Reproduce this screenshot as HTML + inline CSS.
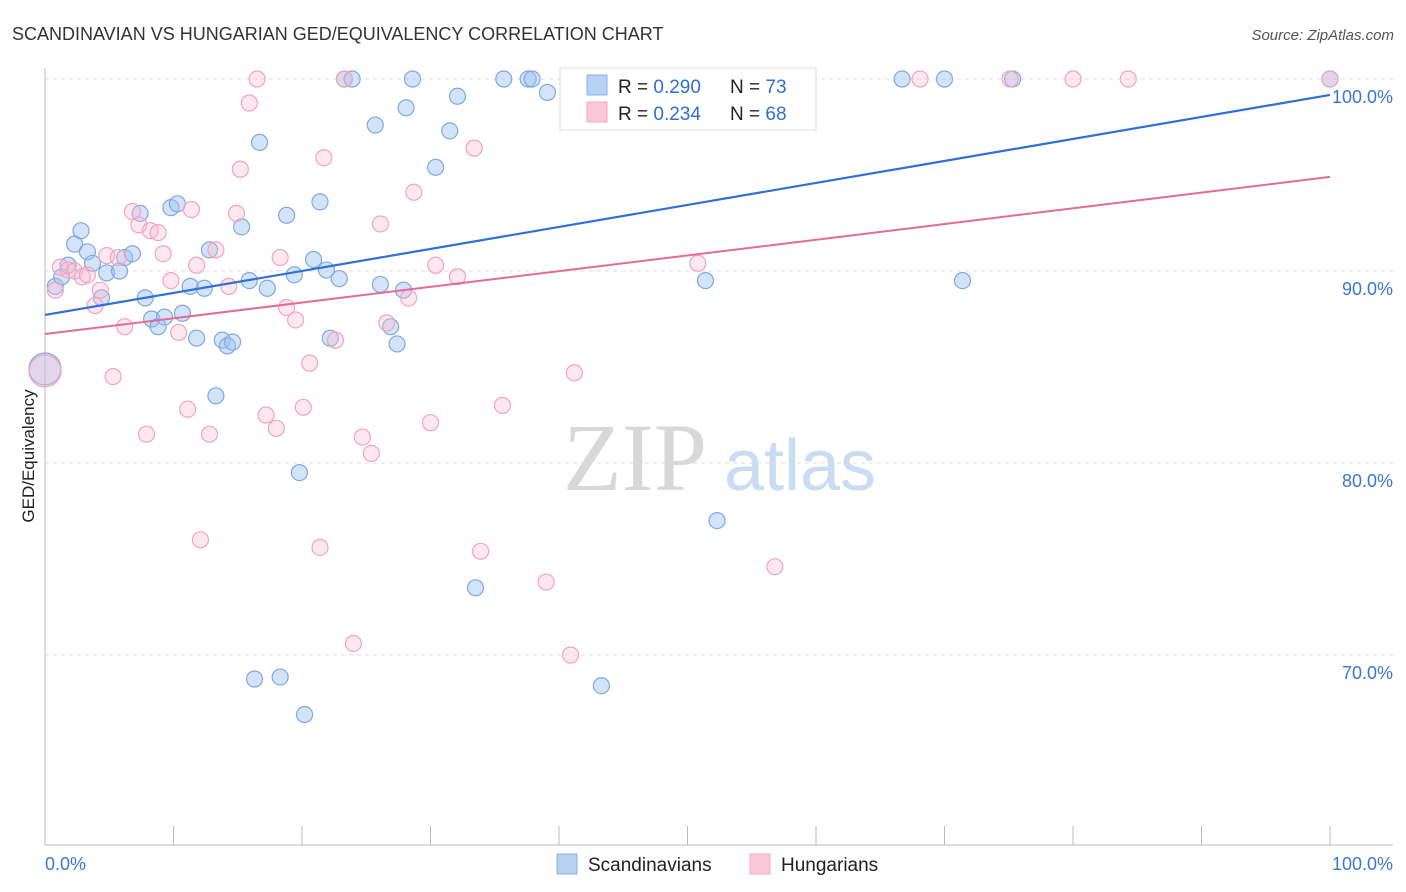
<!DOCTYPE html>
<html><head><meta charset="utf-8"><style>
body{margin:0;background:#fff;font-family:"Liberation Sans",sans-serif;}
svg{display:block}
</style></head><body>
<svg id="c" width="1406" height="892">
<text x="12" y="40" font-size="18" fill="#333">SCANDINAVIAN VS HUNGARIAN GED/EQUIVALENCY CORRELATION CHART</text>
<text x="1394" y="40" font-size="15" fill="#555" font-style="italic" text-anchor="end">Source: ZipAtlas.com</text>
<text x="34" y="456" font-size="17" fill="#222" transform="rotate(-90 34 456)" text-anchor="middle">GED/Equivalency</text>
<g><text x="635" y="490" font-family="Liberation Serif,serif" font-size="96" fill="#d8d8d8" text-anchor="middle">ZIP</text><text x="800" y="490" font-size="72" fill="#c8dcf2" text-anchor="middle">atlas</text></g>
<g id="grid"></g><g id="pts"></g><g id="lines"></g>
<g>
<rect x="560" y="68" width="256" height="62" fill="#fff" stroke="#ddd"/>
<rect x="587" y="75" width="20" height="20" fill="#b8d2f4" stroke="#8ab0e6"/>
<rect x="587" y="102" width="20" height="20" fill="#fac8d8" stroke="#f2a8c0"/>
<text x="618" y="93" font-size="19" fill="#222">R = <tspan fill="#2f6fd0">0.290</tspan></text>
<text x="730" y="93" font-size="19" fill="#222">N = <tspan fill="#2f6fd0">73</tspan></text>
<text x="618" y="120" font-size="19" fill="#222">R = <tspan fill="#2f6fd0">0.234</tspan></text>
<text x="730" y="120" font-size="19" fill="#222">N = <tspan fill="#2f6fd0">68</tspan></text>
</g>
<g>
<rect x="557" y="854" width="20" height="20" fill="#b8d2f4" stroke="#8ab0e6"/>
<text x="588" y="871" font-size="19" fill="#222">Scandinavians</text>
<rect x="750" y="854" width="20" height="20" fill="#fac8d8" stroke="#f2a8c0"/>
<text x="781" y="871" font-size="19" fill="#222">Hungarians</text>
</g>
</svg>
<script>
const yTicks=[100,90,80,70];
const yTickLabels=["100.0%","90.0%","80.0%","70.0%"];
const blueX=[0,0.8,1.3,1.8,2.3,2.8,3.3,3.7,4.4,4.8,5.8,6.2,6.8,7.4,7.8,8.3,8.8,9.3,9.8,10.3,10.7,11.3,11.8,12.4,12.8,13.3,13.8,14.2,14.6,15.3,15.9,16.3,16.7,17.3,18.3,18.8,19.4,19.8,20.2,20.9,21.4,21.9,22.2,22.9,23.3,23.9,25.7,26.1,26.9,27.4,27.9,28.1,28.6,30.4,31.5,32.1,33.5,35.7,37.6,37.9,39.1,42.0,43.3,47.1,51.4,52.3,66.7,70.0,71.4,75.3,100];
const blueY=[84.9,89.2,89.7,90.3,91.4,92.1,91.0,90.4,88.6,89.9,90.0,90.7,90.9,93.0,88.6,87.5,87.1,87.6,93.3,93.5,87.8,89.2,86.5,89.1,91.1,83.5,86.4,86.1,86.3,92.3,89.5,68.75,96.7,89.1,68.85,92.9,89.8,79.5,66.9,90.6,93.6,90.05,86.5,89.6,100,100,97.6,89.3,87.1,86.2,89.0,98.5,100,95.4,97.3,99.1,73.5,100,100,100,99.3,100,68.4,100,89.5,77.0,100,100,89.5,100,100];
const pinkX=[0,0.8,1.2,1.8,2.3,2.9,3.3,3.9,4.3,4.8,5.3,5.7,6.2,6.8,7.3,7.9,8.2,8.8,9.2,9.8,10.4,11.1,11.4,11.8,12.1,12.8,13.3,14.3,14.9,15.2,15.9,16.5,17.2,18.0,18.3,18.8,19.5,20.1,20.6,21.4,21.7,22.6,23.3,24.0,24.7,25.4,26.1,26.6,28.3,28.7,30.0,30.4,32.1,33.4,33.9,35.6,39.0,40.9,41.2,50.8,53.9,56.8,68.1,75.1,80.0,84.3,100];
const pinkY=[84.8,89.0,90.2,90.05,90.0,89.7,89.8,88.2,89.0,90.8,84.5,90.7,87.1,93.1,92.4,81.5,92.1,92.0,90.9,89.5,86.8,82.8,93.2,90.3,76.0,81.5,91.1,89.2,93.0,95.3,98.75,100,82.5,81.8,90.7,88.1,87.45,82.9,85.2,75.6,95.9,86.4,100,70.6,81.35,80.5,92.45,87.3,88.6,94.1,82.1,90.3,89.7,96.4,75.4,83.0,73.8,70.0,84.7,90.4,100,74.6,100,100,100,100,100];
const blueTrend=[87.71,99.17];
const pinkTrend=[86.72,94.9];
const NS="http://www.w3.org/2000/svg";
const sx=v=>45+v*12.85, sy=v=>79+(100-v)*19.2;
function mk(t,a,p){const e=document.createElementNS(NS,t);for(const k in a)e.setAttribute(k,a[k]);p.appendChild(e);return e;}
const grid=document.getElementById('grid');
yTicks.forEach((t,i)=>{
 const l=mk('line',{x1:45,x2:1393,y1:sy(t),y2:sy(t),stroke:'#ddd','stroke-dasharray':'4,4'},grid);
 
 
 const tx=mk('text',{x:1393,y:sy(t)+24,'font-size':18,fill:'#3a78d0','text-anchor':'end'},grid);
 tx.textContent=yTickLabels[i];
 
 
});
let ax=mk('line',{x1:45,x2:45,y1:68,y2:845,stroke:'#bbb'},grid);


ax=mk('line',{x1:45,x2:1393,y1:845,y2:845,stroke:'#bbb'},grid);


for(let i=1;i<=10;i++){const t=mk('line',{x1:sx(i*10),x2:sx(i*10),y1:826,y2:845,stroke:'#bbb'},grid);
 
 }
[["0.0%",45,'start'],["100.0%",1393,'end']].forEach(d=>{const t=mk('text',{x:d[1],y:870,'font-size':18,fill:'#3a78d0','text-anchor':d[2]},grid);t.textContent=d[0];
 
 });
const pts=document.getElementById('pts');
function draw(X,Y,fill,stroke,name){X.forEach((x,i)=>{const big=(x===0);
 const c=mk('circle',{cx:sx(x),cy:sy(Y[i]),r:big?16:8,fill:fill,stroke:stroke,'stroke-width':1.2},pts);
 
 });}
draw(blueX,blueY,'rgba(160,196,240,0.45)','#7ea8e2','scandinavian-point');
draw(pinkX,pinkY,'rgba(248,190,210,0.35)','#f0a4be','hungarian-point');
const lines=document.getElementById('lines');
let tl=mk('line',{x1:sx(0),y1:sy(blueTrend[0]),x2:sx(100),y2:sy(blueTrend[1]),stroke:'#2f6fd6','stroke-width':2.2},lines);


tl=mk('line',{x1:sx(0),y1:sy(pinkTrend[0]),x2:sx(100),y2:sy(pinkTrend[1]),stroke:'#e46a98','stroke-width':2},lines);


</script>
</body></html>
